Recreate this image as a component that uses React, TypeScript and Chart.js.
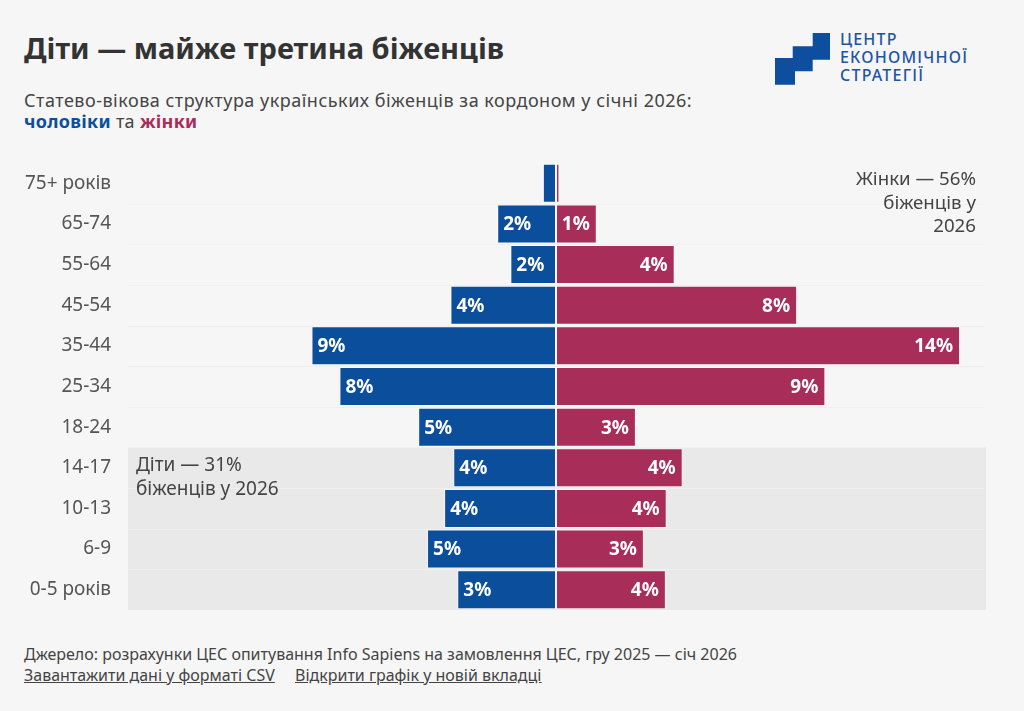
import React, { useEffect, useRef } from "react";
import { Chart, registerables } from "chart.js";

Chart.register(...registerables);

const categories = ["75+ років", "65-74", "55-64", "45-54", "35-44", "25-34", "18-24", "14-17", "10-13", "6-9", "0-5 років"];
const menShare = [0.46, 2.06, 1.6, 3.7, 8.57, 7.59, 4.83, 3.6, 3.92, 4.52, 3.46];
const womenShare = [0.12, 1.43, 4.16, 8.45, 14.16, 9.44, 2.8, 4.44, 3.88, 3.08, 3.85];
const axisLimit = 15;
const childrenFrom = "14-17";

const MEN = "#0b4f9c";
const WOMEN = "#a92d59";
const FONT = "'Noto Sans', Roboto, sans-serif";

const bandPlugin = {
  id: "band",
  beforeDatasetsDraw(chart: any) {
    const { ctx, chartArea, scales } = chart;
    const y = scales.y;
    const idx = categories.indexOf(childrenFrom);
    const top = (y.getPixelForValue(idx - 1) + y.getPixelForValue(idx)) / 2;
    ctx.save();
    ctx.fillStyle = "#e9e9e9";
    ctx.fillRect(chartArea.left, top, chartArea.right - chartArea.left + 2, chartArea.bottom - top);
    ctx.strokeStyle = "#efefef";
    ctx.lineWidth = 1;
    for (let i = 0; i < categories.length - 1; i++) {
      const yy = Math.round((y.getPixelForValue(i) + y.getPixelForValue(i + 1)) / 2) + 0.5;
      ctx.beginPath();
      ctx.moveTo(chartArea.left, yy);
      ctx.lineTo(chartArea.right, yy);
      ctx.stroke();
    }
    ctx.restore();
  },
};

const labelPlugin = {
  id: "barLabels",
  afterDatasetsDraw(chart: any) {
    const { ctx } = chart;
    ctx.save();
    ctx.font = `bold 19px ${FONT}`;
    ctx.fillStyle = "#ffffff";
    ctx.textBaseline = "middle";
    chart.data.datasets.forEach((ds: any, di: number) => {
      const meta = chart.getDatasetMeta(di);
      meta.data.forEach((el: any, i: number) => {
        const v = Math.round(Math.abs(ds.data[i]));
        if (v < 1) return;
        const txt = `${v}%`;
        if (di === 0) {
          ctx.textAlign = "left";
          ctx.fillText(txt, el.x + 6, el.y + 1);
        } else {
          ctx.textAlign = "right";
          ctx.fillText(txt, el.x - 7, el.y + 1);
        }
      });
    });
    ctx.restore();
  },
};

function PyramidChart() {
  const ref = useRef<HTMLCanvasElement | null>(null);
  useEffect(() => {
    if (!ref.current) return;
    const chart = new Chart(ref.current, {
      type: "bar",
      data: {
        labels: categories,
        datasets: [
          {
            label: "чоловіки",
            data: menShare.map((v) => -v),
            backgroundColor: MEN,
            borderColor: "rgba(255,255,255,0.55)",
            borderWidth: 1,
            borderSkipped: false,
            barPercentage: 0.96,
            categoryPercentage: 1,
          },
          {
            label: "жінки",
            data: womenShare,
            backgroundColor: WOMEN,
            borderColor: "rgba(255,255,255,0.55)",
            borderWidth: 1,
            borderSkipped: false,
            barPercentage: 0.96,
            categoryPercentage: 1,
          },
        ],
      },
      options: {
        indexAxis: "y",
        animation: false,
        responsive: true,
        maintainAspectRatio: false,
        layout: { autoPadding: false, padding: { left: 0, right: 40, top: 13, bottom: 10 } },
        plugins: { legend: { display: false }, tooltip: { enabled: false } },
        scales: {
          x: { display: false, stacked: true, min: -axisLimit, max: axisLimit },
          y: {
            stacked: true,
            grid: { display: false, drawTicks: false },
            border: { display: false },
            ticks: { padding: 17, color: "#555", font: { family: FONT, size: 19 } },
            afterFit: (s: any) => {
              s.width = 128;
              s.paddingTop = 0;
              s.paddingBottom = 0;
            },
          },
        },
      },
      plugins: [bandPlugin, labelPlugin],
    });
    return () => chart.destroy();
  }, []);
  return (
    <div style={{ position: "absolute", left: 0, top: 150, width: 1024, height: 470 }}>
      <canvas ref={ref} />
    </div>
  );
}

export default function App() {
  useEffect(() => {
    document.body.style.margin = "0";
  }, []);
  const txt: React.CSSProperties = { position: "absolute", whiteSpace: "nowrap", fontFamily: FONT };
  return (
    <div style={{ position: "relative", width: 1024, height: 711, background: "#f6f6f6", overflow: "hidden", fontFamily: FONT }}>
      <div style={{ ...txt, left: 24, top: 28, fontSize: 29, fontWeight: 700, color: "#333" }}>Діти — майже третина біженців</div>
      <div style={{ ...txt, left: 24, top: 88, fontSize: 18, letterSpacing: 0.5, color: "#444" }}>
        Статево-вікова структура українських біженців за кордоном у січні 2026:
      </div>
      <div style={{ ...txt, left: 24, top: 109, fontSize: 18, letterSpacing: 0.3, color: "#444" }}>
        <span style={{ color: MEN, fontWeight: 700 }}>чоловіки</span> та{" "}
        <span style={{ color: WOMEN, fontWeight: 700 }}>жінки</span>
      </div>

      <svg style={{ position: "absolute", left: 0, top: 0 }} width={1024} height={100}>
        <polygon
          fill="#0d4f9e"
          points="812.7,33 830,33 830,59.7 812.7,59.7 812.7,71.3 795,71.3 795,84.7 775,84.7 775,58 792.7,58 792.7,46.3 812.7,46.3"
        />
      </svg>
      <div style={{ ...txt, left: 840, top: 30, fontSize: 16, lineHeight: "18px", color: "#1d55a3", fontWeight: 500, letterSpacing: 1.2 }}>
        ЦЕНТР
        <br />
        ЕКОНОМІЧНОЇ
        <br />
        СТРАТЕГІЇ
      </div>

      <PyramidChart />

      <div style={{ ...txt, right: 48, top: 166, fontSize: 18.7, lineHeight: "23.5px", color: "#444", textAlign: "right" }}>
        Жінки — 56%
        <br />
        біженців у
        <br />
        2026
      </div>
      <div style={{ ...txt, left: 136, top: 453, fontSize: 19, lineHeight: "23.5px", color: "#444" }}>
        Діти — 31%
        <br />
        біженців у 2026
      </div>

      <div style={{ ...txt, left: 24, top: 643, fontSize: 16, color: "#444" }}>
        Джерело: розрахунки ЦЕС опитування Info Sapiens на замовлення ЦЕС, гру 2025 — січ 2026
      </div>
      <div style={{ ...txt, left: 24, top: 664, fontSize: 16, color: "#444", textDecoration: "underline" }}>
        Завантажити дані у форматі CSV
      </div>
      <div style={{ ...txt, left: 295, top: 664, fontSize: 16, color: "#444", textDecoration: "underline" }}>
        Відкрити графік у новій вкладці
      </div>
    </div>
  );
}
